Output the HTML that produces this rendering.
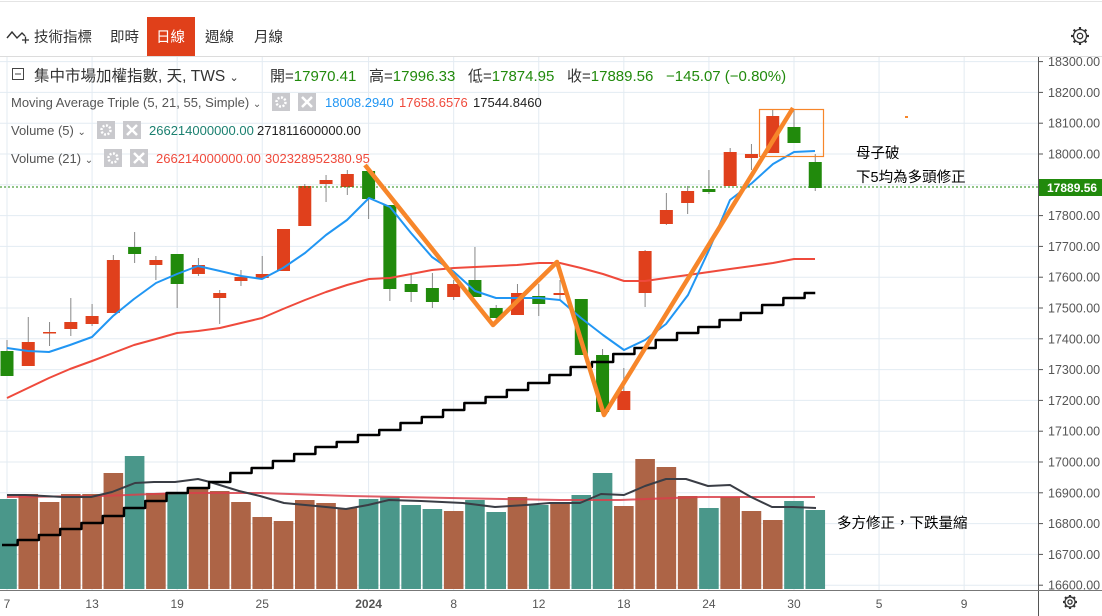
<!DOCTYPE html>
<html><head><meta charset="utf-8">
<style>
body{margin:0;width:1102px;height:616px;overflow:hidden;background:#fff;font-family:"Liberation Sans","Noto Sans CJK TC",sans-serif;}
svg{position:absolute;left:0;top:0}
</style></head><body>
<svg id="s" width="1102" height="616" xmlns="http://www.w3.org/2000/svg" font-family="Liberation Sans, Noto Sans CJK TC, sans-serif">
</svg>
<script>
var s=document.getElementById('s');var h='';
function X(i){return 7+21.27*i;}
h+='<rect x="0" y="0" width="1102" height="616" fill="#fff"/>';
h+='<line x1="0" y1="1.5" x2="1102" y2="1.5" stroke="#e4e4e4"/>';
h+='<line x1="0" y1="56.5" x2="1102" y2="56.5" stroke="#dcdcdc"/>';
function Y(p){return 154+(18000-p)*0.308;}
for(var p=16600;p<=18300;p+=100){var y=Y(p);h+='<line x1="0" y1="'+y+'" x2="1038" y2="'+y+'" stroke="#e3ebf2"/>';
h+='<line x1="1038" y1="'+y+'" x2="1043" y2="'+y+'" stroke="#555"/>';
h+='<text x="1048" y="'+(y+4.5)+'" font-size="12.5" fill="#555">'+p+'.00</text>';}
var gl=[[0,'7'],[4,'13'],[8,'19'],[12,'25'],[17,'2024'],[21,'8'],[25,'12'],[29,'18'],[33,'24'],[37,'30'],[41,'5'],[45,'9']];
gl.forEach(function(g){var x=X(g[0]);h+='<line x1="'+x+'" y1="57" x2="'+x+'" y2="590" stroke="#e3ebf2"/>';
h+='<text x="'+x+'" y="608" font-size="12" fill="#555" text-anchor="middle"'+(g[1]=='2024'?' font-weight="bold"':'')+'>'+g[1]+'</text>';});
h+='<line x1="1038.5" y1="57" x2="1038.5" y2="616" stroke="#555"/>';
h+='<line x1="0" y1="590.5" x2="1102" y2="590.5" stroke="#777"/>';
var V=[[499,0],[494,1],[502,1],[494,1],[494,1],[473,1],[456,0],[493,1],[492,0],[489,1],[491,1],[502,1],[517,1],[521,1],[500,1],[503,1],[508,1],[499,0],[497,0],[505,0],[509,0],[511,1],[500,0],[512,0],[497,1],[505,0],[502,1],[495,0],[473,0],[506,1],[459,1],[467,1],[496,1],[508,0],[497,1],[511,1],[520,1],[501,0],[510,0]];
V.forEach(function(v,i){var x=X(i);h+='<rect x="'+(x-9.8)+'" y="'+v[0]+'" width="19.6" height="'+(589-v[0])+'" fill="'+(v[1]?'#ad6446':'#4a978a')+'"/>';});
function pl(pts,c,w,extra){return '<polyline points="'+pts.map(function(p){return p.join(',')}).join(' ')+'" fill="none" stroke="'+c+'" stroke-width="'+w+'" stroke-linejoin="round" '+(extra||'')+'/>';}
h+=pl([[7,497],[100,496],[180,493],[260,493],[350,496],[450,498],[560,500],[620,500],[700,497],[815,497]],'#d9404a',2,'opacity="0.85"');
h+=pl([[7,495],[25,495],[63,497],[91,497],[112,492],[135,483],[154,482],[175,482],[198,479],[210,482],[239,491],[260,496],[284,503],[316,506],[346,509],[368,505],[389,500],[421,501],[463,503],[495,507],[526,505],[550,503],[580,503],[601,494],[624,495],[645,486],[666,479],[686,479],[708,486],[730,485],[751,497],[772,507],[793,507],[816,508]],'#3a3d45',2);
var C=[[351,376,340,376,0],[342,366,317,366,1],[332,333,322,346,1],[322,329,298,336,1],[316,324,304,326,1],[260,313,255,313,1],[247,254,232,263,0],[260,265,256,280,1],[254,284,254,308,0],[265,274,258,276,1],[293,298,290,324,1],[277,281,270,286,1],[274,278,256,278,1],[229,271,229,271,1],[186,226,184,226,1],[180,184,175,202,1],[174,187,170,195,1],[171,199,170,219,0],[205,289,205,301,0],[284,292,273,302,0],[288,302,273,308,0],
[284,297,280,300,1],[280,297,247,297,0],[308,318,305,322,0],[293,315,284,315,1],[296,304,284,316,0],[293,295,280,300,1],[299,355,299,355,0],[355,412,349,412,0],[391,410,368,410,1],[251,293,250,307,1],[210,224,193,225,1],[191,203,186,214,1],[189,192,170,194,0],[152,186,148,186,1],[154,158,144,170,1],[116,153,110,153,1],[127,143,110,143,0],[162,188,154,191,0]];
C.forEach(function(c,i){var x=X(i);h+='<line x1="'+x+'" y1="'+c[2]+'" x2="'+x+'" y2="'+c[3]+'" stroke="#888" stroke-width="1"/>';
h+='<rect x="'+(x-6.5)+'" y="'+c[0]+'" width="13" height="'+Math.max(1.5,c[1]-c[0])+'" fill="'+(c[4]?'#e0401c':'#218a0c')+'"/>';});
h+=pl([[7,398],[28,388],[49,378],[70,369],[92,361],[113,353],[134,345],[156,339],[177,333],[198,331],[220,328],[241,323],[262,318],[283,309],[305,300],[326,292],[347,285],[369,279],[390,278],[411,274],[432,270],[454,268],[475,267],[517,265],[539,263],[560,263],[581,268],[603,274],[624,281],[645,281],[666,278],[688,275],[709,272],[730,269],[752,266],[773,263],[794,259],[815,259]],'#ef4a3c',2);
h+=pl([[7,348],[28,351],[49,352],[70,345],[92,337],[113,316],[134,299],[156,283],[177,274],[198,266],[220,271],[241,276],[262,279],[283,268],[305,253],[326,235],[347,220],[369,198],[390,207],[411,233],[432,257],[454,272],[475,291],[496,298],[517,298],[539,298],[560,300],[581,318],[603,335],[624,350],[645,340],[666,324],[688,295],[709,250],[730,200],[752,183],[773,164],[794,152],[815,151]],'#2196f3',2);
var S=[545,540,535,529,523,516,508,501,493,488,482,473,468,461,454,447,442,435,430,423,417,410,403,397,390,383,375,367,362,354,348,340,333,327,320,313,305,298,293];
var sp=[];S.forEach(function(y,i){var x0=i==0?2:X(i)-10.6,x1=i==38?X(i):X(i)+10.6;sp.push([x0,y]);sp.push([x1,y]);});
h+=pl(sp,'#000',2.5,'stroke-linejoin="miter"');
h+='<line x1="0" y1="187" x2="1038" y2="187" stroke="#218a0c" stroke-dasharray="2,2"/>';
h+='<rect x="1039" y="179" width="63" height="17" fill="#218a0c"/><text x="1047" y="192" font-size="12" font-weight="bold" fill="#fff">17889.56</text>';
h+=pl([[365,165],[493,325],[557,262],[604,415],[793,108]],'#f7862a',4.5);
h+='<rect x="759.5" y="109.5" width="64" height="47" fill="none" stroke="#f7862a" stroke-width="1.2"/>';
h+='<rect x="905" y="116" width="3" height="2" fill="#f7862a"/>';
h+='<text x="856" y="158" font-size="14.5" fill="#000">母子破</text>';
h+='<text x="856" y="182" font-size="14.5" fill="#000">下5均為多頭修正</text>';
h+='<text x="837" y="528" font-size="14.5" fill="#000">多方修正，下跌量縮</text>';
h+='<path d="M7 38 L12 32 L17 38 L22 33 L25 36" fill="none" stroke="#333" stroke-width="1.4"/><path d="M22 40 h7 M25.5 36.5 v7" stroke="#333" stroke-width="1.3"/>';
h+='<text x="34" y="42" font-size="14.5" fill="#333">技術指標</text>';
h+='<text x="110" y="42" font-size="14.5" fill="#333">即時</text>';
h+='<rect x="147" y="17" width="48" height="39" fill="#e0401a"/><text x="156" y="42" font-size="14.5" fill="#fff">日線</text>';
h+='<text x="205" y="42" font-size="14.5" fill="#333">週線</text>';
h+='<text x="254" y="42" font-size="14.5" fill="#333">月線</text>';
function gear(cx,cy,r){var d='';for(var k=0;k<8;k++){var a=k*Math.PI/4;d+='<line x1="'+(cx+Math.cos(a)*r*0.7)+'" y1="'+(cy+Math.sin(a)*r*0.7)+'" x2="'+(cx+Math.cos(a)*r)+'" y2="'+(cy+Math.sin(a)*r)+'" stroke="#333" stroke-width="2.2"/>';}
return d+'<circle cx="'+cx+'" cy="'+cy+'" r="'+(r*0.72)+'" fill="#fff" stroke="#333" stroke-width="1.3"/><circle cx="'+cx+'" cy="'+cy+'" r="'+(r*0.3)+'" fill="none" stroke="#333" stroke-width="1.3"/>';}
h+=gear(1080,36,9);
h+=gear(1070,602,7);
h+='<rect x="12.5" y="68.5" width="11" height="11" fill="none" stroke="#444"/><line x1="15" y1="74" x2="21" y2="74" stroke="#444"/>';
h+='<text x="34" y="81" font-size="15.5" fill="#333">集中市場加權指數, 天, TWS <tspan font-size="11">⌄</tspan></text>';
h+='<text x="270" y="81" font-size="15" fill="#333">開=<tspan fill="#218a0c">17970.41</tspan></text>';
h+='<text x="369" y="81" font-size="15" fill="#333">高=<tspan fill="#218a0c">17996.33</tspan></text>';
h+='<text x="468" y="81" font-size="15" fill="#333">低=<tspan fill="#218a0c">17874.95</tspan></text>';
h+='<text x="567" y="81" font-size="15" fill="#333">收=<tspan fill="#218a0c">17889.56</tspan></text>';
h+='<text x="666" y="81" font-size="15" fill="#218a0c">−145.07 (−0.80%)</text>';
function box(x,y){return '<rect x="'+x+'" y="'+y+'" width="18" height="18" fill="#c9c9cd"/>';}
function gb(x,y){return box(x,y)+'<circle cx="'+(x+9)+'" cy="'+(y+9)+'" r="4.5" fill="none" stroke="#fff" stroke-width="2.5" stroke-dasharray="2,1.5"/>';}
function xb(x,y){return box(x,y)+'<path d="M'+(x+4)+' '+(y+4)+' L'+(x+14)+' '+(y+14)+' M'+(x+14)+' '+(y+4)+' L'+(x+4)+' '+(y+14)+'" stroke="#fff" stroke-width="2.5"/>';}
h+='<text x="11" y="107" font-size="13" fill="#555">Moving Average Triple (5, 21, 55, Simple) <tspan font-size="10">⌄</tspan></text>';
h+=gb(272,93)+xb(298,93);
h+='<text x="325" y="107" font-size="13" fill="#2196f3">18008.2940</text><text x="399" y="107" font-size="13" fill="#ef4a3c">17658.6576</text><text x="473" y="107" font-size="13" fill="#222">17544.8460</text>';
h+='<text x="11" y="135" font-size="13" fill="#555">Volume (5) <tspan font-size="10">⌄</tspan></text>';
h+=gb(97,121)+xb(123,121);
h+='<text x="149" y="135" font-size="13" fill="#1b8070">266214000000.00</text><text x="257" y="135" font-size="13" fill="#222">271811600000.00</text>';
h+='<text x="11" y="163" font-size="13" fill="#555">Volume (21) <tspan font-size="10">⌄</tspan></text>';
h+=gb(104,149)+xb(130,149);
h+='<text x="156" y="163" font-size="13" fill="#ef4a3c">266214000000.00</text><text x="265" y="163" font-size="13" fill="#ef4a3c">302328952380.95</text>';
s.innerHTML=h;
</script>
</body></html>
